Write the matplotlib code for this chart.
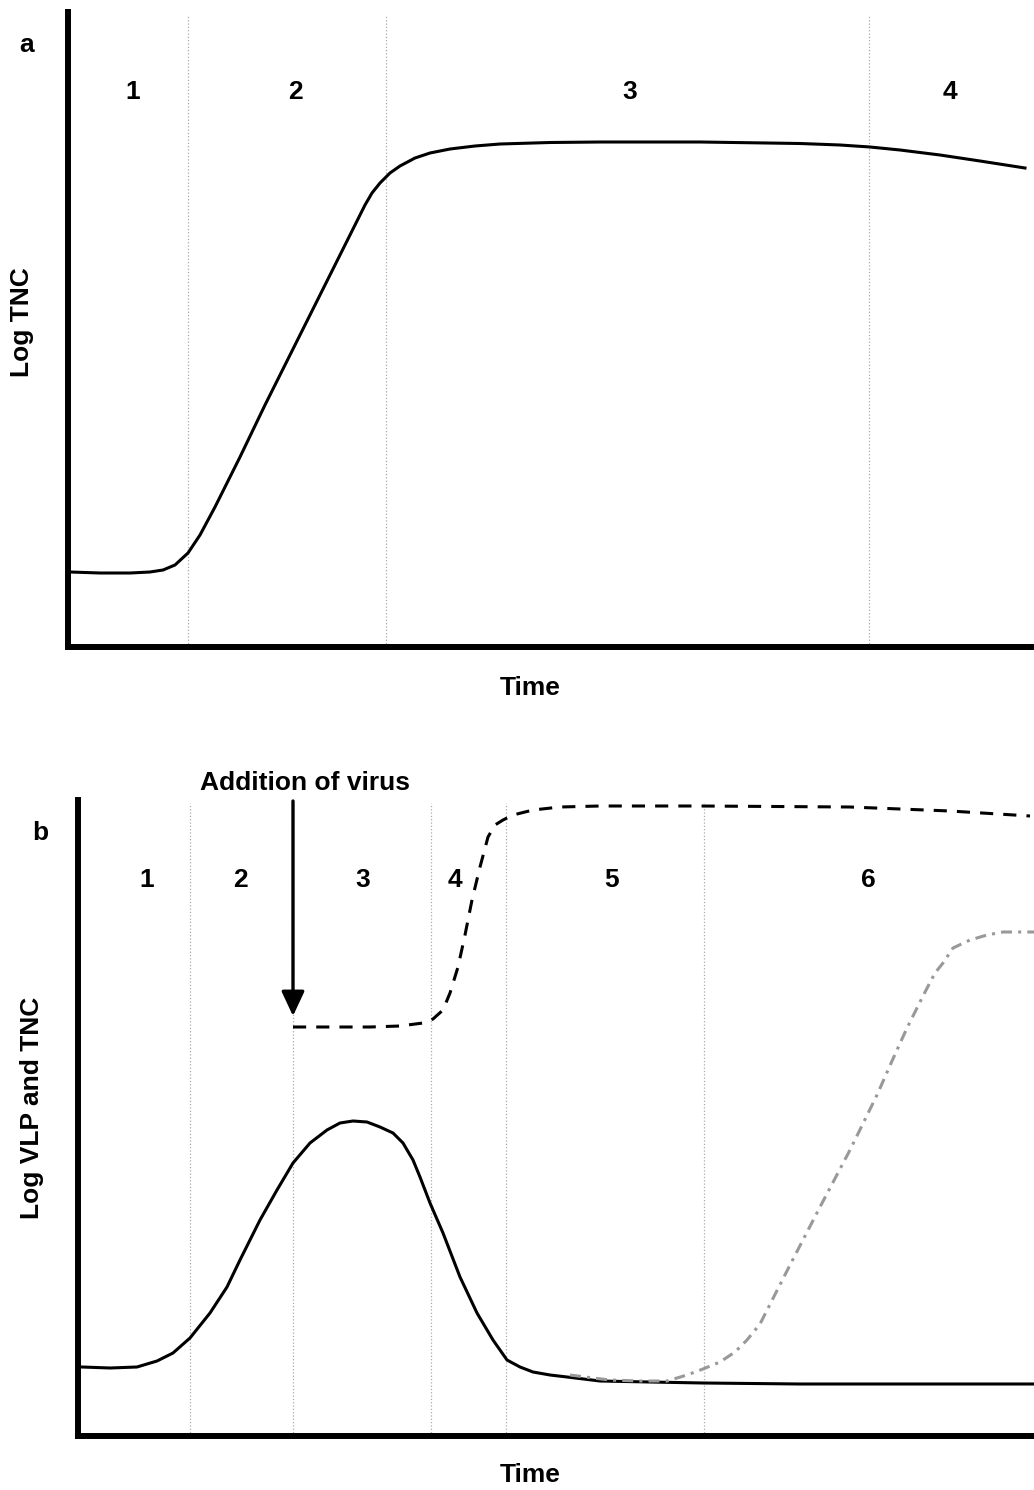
import matplotlib.pyplot as plt

plt.rcParams['font.family'] = ['Liberation Sans', 'DejaVu Sans']
plt.rcParams['font.weight'] = 'bold'

W, H = 1034, 1490

# ---- panel a : growth of the culture (time / log TNC)
a_time = [70, 100, 130, 150, 163, 175, 188, 200, 215, 240, 265, 290, 320, 345,
          365, 372, 380, 390, 400, 415, 430, 450, 475, 500, 550, 600, 700, 800,
          840, 870, 900, 940, 980, 1025]
a_tnc = [572, 573, 573, 572, 570, 565, 553, 535, 507, 457, 405, 355, 295, 245,
         205, 193, 183, 173, 166, 158, 153, 149, 146, 144, 142.5, 142, 142, 143.5,
         145, 147, 150, 155, 161, 168]
a_bounds = [188, 386, 869]
a_phases = ['1', '2', '3', '4']
a_phase_x = [133, 295, 630, 950]

# ---- panel b : host cells (solid), VLP (dashed), second host (grey dash-dot)
b_time = [82, 110, 137, 157, 173, 190, 210, 227, 240, 260, 277, 293, 310, 327,
          340, 353, 367, 380, 393, 403, 413, 420, 430, 443, 460, 477, 493, 507,
          520, 533, 550, 567, 600, 650, 703, 800, 900, 1034]
b_tnc = [1367, 1368, 1367, 1361, 1353, 1338, 1313, 1287, 1260, 1220, 1190, 1163,
         1143, 1130, 1123, 1121, 1122, 1127, 1133, 1143, 1160, 1177, 1203, 1233,
         1277, 1313, 1340, 1360, 1367, 1372, 1375, 1377, 1381, 1382, 1383, 1384,
         1384, 1384]

vlp_time = [293, 330, 370, 400, 423, 433, 443, 450, 458, 465, 472, 480, 488, 495,
            503, 513, 533, 560, 600, 700, 850, 950, 1030]
vlp_val = [1027, 1027, 1027, 1026, 1023, 1019, 1010, 993, 967, 935, 900, 867, 837,
           825, 820, 815, 810, 807, 806, 806, 807, 811, 816]

host2_time = [570, 593, 610, 640, 667, 687, 703, 720, 735, 747, 760, 790, 820, 850,
              877, 892, 907, 924, 935, 943, 953, 970, 987, 1003, 1034]
host2_val = [1375, 1378, 1380, 1381, 1381, 1375, 1369, 1362, 1352, 1340, 1324, 1265,
             1207, 1150, 1095, 1061, 1028, 994, 973, 963, 948, 940, 935, 932, 932]

b_bounds = [190, 293, 431, 506, 704]
b_phases = ['1', '2', '3', '4', '5', '6']
b_phase_x = [147, 240, 363, 455, 612, 868]
virus_time = 293


def make_axes(left, top, bottom):
    ax = fig.add_axes([left / W, 1 - bottom / H, (W - left) / W, (bottom - top) / H])
    ax.set_xlim(left, W)
    ax.set_ylim(bottom, top)
    for s in ['top', 'right']:
        ax.spines[s].set_visible(False)
    for s in ['left', 'bottom']:
        ax.spines[s].set_linewidth(4.3)
        ax.spines[s].set_capstyle('projecting')
    ax.set_xticks([])
    ax.set_yticks([])
    ax.patch.set_alpha(0)
    return ax


fig = plt.figure(figsize=(W / 100, H / 100), dpi=100)

# panel a
ax1 = make_axes(68, 12, 647)
ax1.vlines(a_bounds, 647, 15, colors='#aaaaaa', linestyles=':', lw=0.9)
ax1.plot(a_time, a_tnc, color='black', lw=2.2, solid_joinstyle='round')
for lab, x in zip(a_phases, a_phase_x):
    ax1.text(x, 92, lab, fontsize=19, ha='center', va='center')
fig.text(27 / W, 1 - 45 / H, 'a', fontsize=19, ha='center', va='center')
fig.text(22 / W, 1 - 322 / H, 'Log TNC', fontsize=19, rotation=90, ha='center', va='center')
fig.text(530 / W, 1 - 688 / H, 'Time', fontsize=19, ha='center', va='center')

# panel b
ax2 = make_axes(78, 800, 1436)
ax2.vlines(b_bounds, 1436, 803, colors='#aaaaaa', linestyles=':', lw=0.9)
ax2.plot(b_time, b_tnc, color='black', lw=2.2, solid_joinstyle='round')
ax2.plot(vlp_time, vlp_val, color='black', lw=2.2, dashes=(4.3, 3.3))
ax2.plot(host2_time, host2_val, color='#999999', lw=2.2, dashes=(3.6, 2.0, 1.0, 2.0))
ax2.annotate('', xy=(virus_time, 1016), xytext=(virus_time, 801),
             arrowprops=dict(arrowstyle='-|>,head_length=0.75,head_width=0.35',
                             mutation_scale=20, lw=2.4, color='black',
                             shrinkA=0, shrinkB=0),
             annotation_clip=False)
for lab, x in zip(b_phases, b_phase_x):
    ax2.text(x, 880, lab, fontsize=19, ha='center', va='center')
fig.text(305 / W, 1 - 783 / H, 'Addition of virus', fontsize=19, ha='center', va='center')
fig.text(40 / W, 1 - 833 / H, 'b', fontsize=19, ha='center', va='center')
fig.text(32 / W, 1 - 1108 / H, 'Log VLP and TNC', fontsize=19, rotation=90, ha='center', va='center')
fig.text(530 / W, 1 - 1475 / H, 'Time', fontsize=19, ha='center', va='center')

plt.savefig('out.png', dpi=100)
